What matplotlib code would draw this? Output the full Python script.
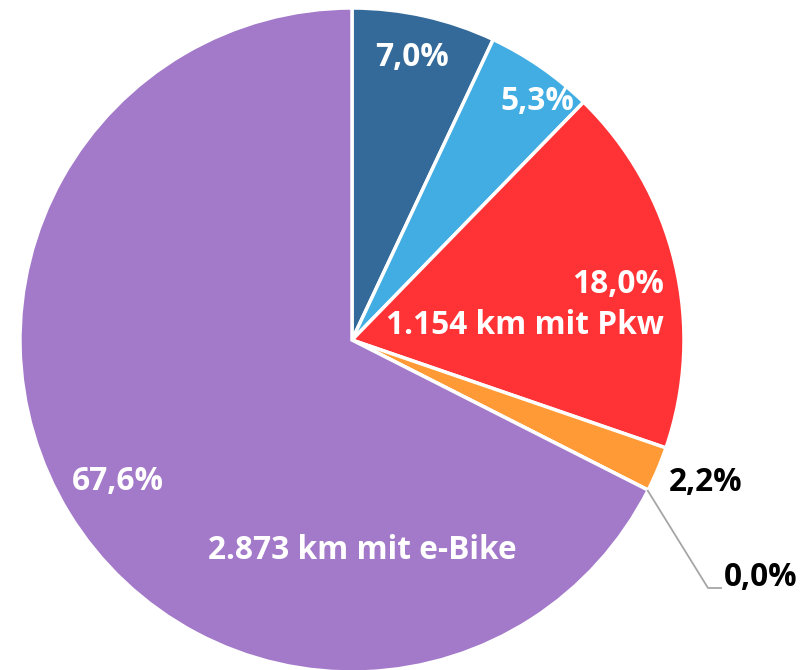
"""Pie chart: distance share by mode (e-Bike vs Pkw)."""
import matplotlib
matplotlib.use("Agg")
import matplotlib.pyplot as plt
import numpy as np

shares = [7.0, 5.3, 18.0, 2.2, 0.0, 67.6]
colors = ["#346a99", "#41ade2", "#ff3336", "#ff9a36", "#a5a5a5", "#a379c9"]
pct_labels = ["7,0%", "5,3%", "18,0%", "2,2%", "0,0%", "67,6%"]
extra_labels = {2: "1.154 km mit Pkw", 5: "2.873 km mit e-Bike"}

W, H = 812, 670
CX, CY, R = 352, 340, 332


def px(x, y):
    return (x - CX) / R, (CY - y) / R


plt.rcParams["font.family"] = ["Open Sans", "DejaVu Sans"]
fig = plt.figure(figsize=(W / 100, H / 100), dpi=100)
ax = fig.add_axes([0, 0, 1, 1])
ax.pie(shares, colors=colors, startangle=90, counterclock=False, radius=1,
       wedgeprops=dict(edgecolor="white", linewidth=2.5))
ax.set_xlim(-CX / R, (W - CX) / R)
ax.set_ylim(-(H - CY) / R, CY / R)
ax.set_aspect("equal")
ax.axis("off")

fs = 22.8
kw = dict(fontsize=fs, fontweight="bold", va="center")
ax.text(*px(412, 58), pct_labels[0], color="white", ha="center", **kw)
ax.text(*px(537, 101), pct_labels[1], color="white", ha="center", **kw)
ax.text(*px(664, 285), pct_labels[2], color="white", ha="right", **kw)
ax.text(*px(664, 326), extra_labels[2], color="white", ha="right", **kw)
ax.text(*px(706, 483), pct_labels[3], color="black", ha="center", **kw)
ax.text(*px(118, 482), pct_labels[5], color="white", ha="center", **kw)
ax.text(*px(362, 551), extra_labels[5], color="white", ha="center", **kw)

# leader line for the empty slice
ang = np.deg2rad(90 - 3.6 * sum(shares[:4]))
x0, y0 = np.cos(ang), np.sin(ang)
xe, ye = px(708, 588)
xt, _ = px(721, 588)
ax.plot([x0, xe, xt], [y0, ye, ye], color="#a6a6a6", lw=1.3)
ax.text(*px(724, 578), pct_labels[4], color="black", ha="left", **kw)

fig.savefig("out.png", dpi=100)
